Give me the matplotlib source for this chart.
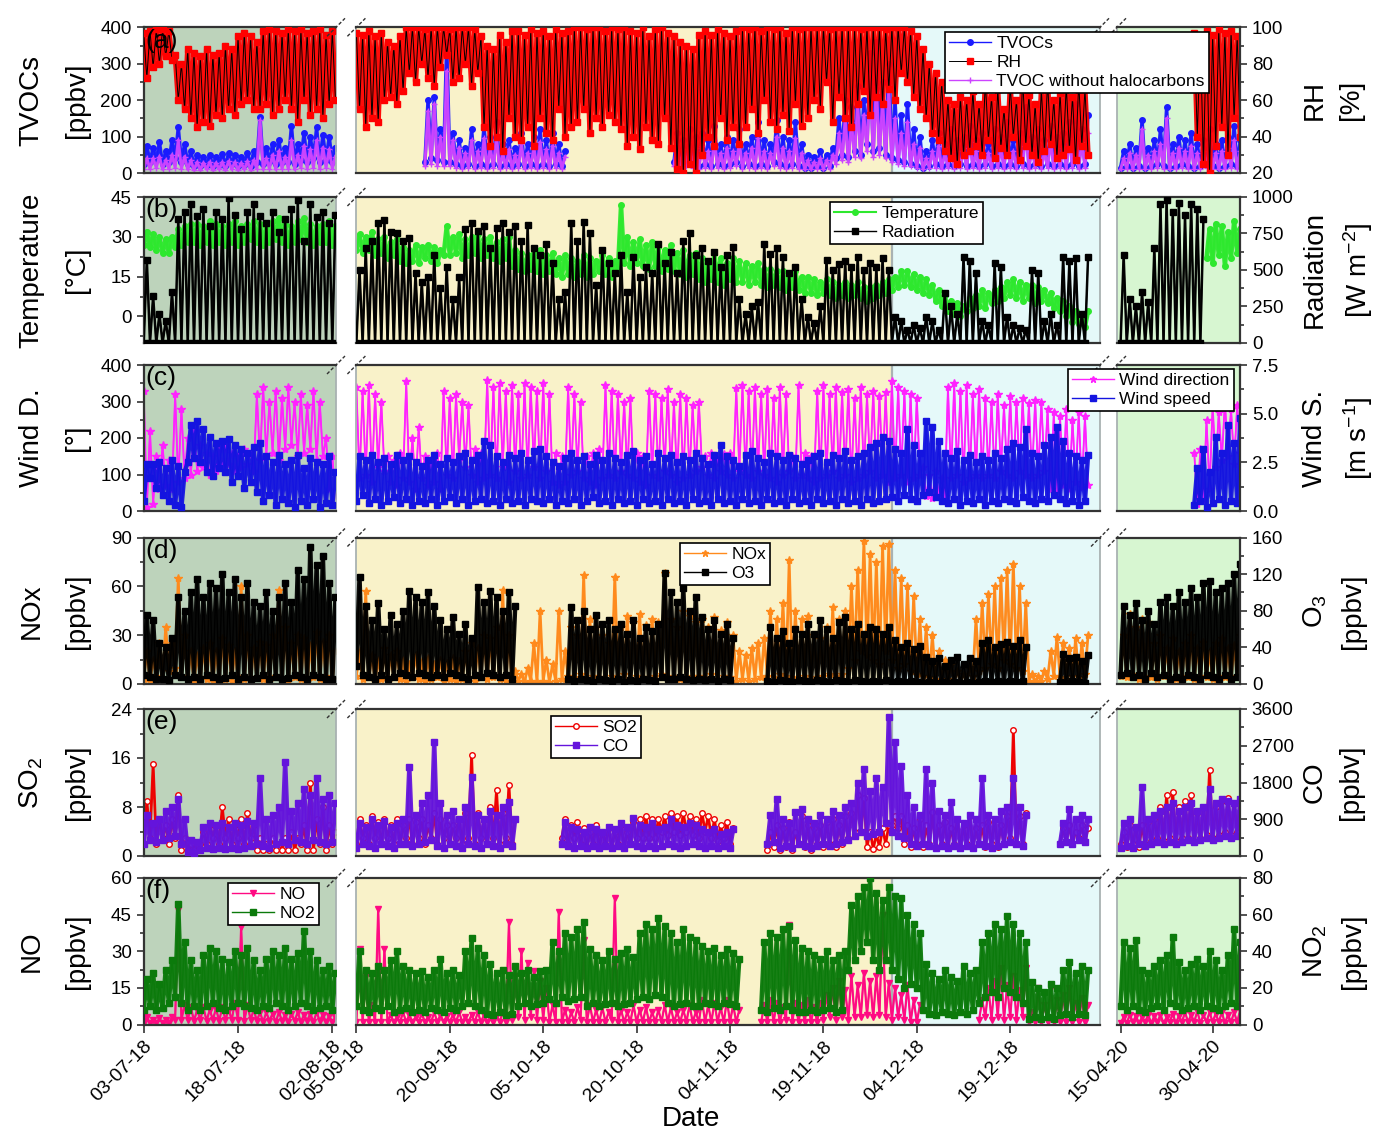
"""
Six-panel broken time series: VOCs, met and trace gases
(Jul-Aug 2018, Sep-Dec 2018, Apr-May 2020).
Values are two readings per day (00:00 and 12:00), read off the figure.
"""

import numpy as np
import matplotlib
matplotlib.use("Agg")
import matplotlib.pyplot as plt
import matplotlib.dates as mdates
from matplotlib.lines import Line2D
from matplotlib.ticker import AutoMinorLocator, FormatStrFormatter

plt.rcParams["font.family"] = ["Liberation Sans", "DejaVu Sans"]
plt.rcParams["mathtext.fontset"] = "custom"
plt.rcParams["mathtext.rm"] = "Liberation Sans"
plt.rcParams["mathtext.it"] = "Liberation Sans:italic"


def vals(s):
    out = []
    for tok in s.split():
        if "*" in tok:
            v, n = tok.split("*")
            out += [float(v)] * int(n)
        else:
            out.append(float(tok))
    return np.array(out)


# --- segments ----------------------------------------------------------------
SEG_START = ["2018-07-03", "2018-09-05", "2020-04-15"]
SEG_XLIM = [("2018-07-03T00:00", "2018-08-02T14:00"),
            ("2018-09-05T00:00", "2019-01-02T10:00"),
            ("2020-04-14T10:00", "2020-05-04T11:00")]
SEG_TICKS = [["2018-07-03", "2018-07-18", "2018-08-02"],
             ["2018-09-05", "2018-09-20", "2018-10-05", "2018-10-20",
              "2018-11-04", "2018-11-19", "2018-12-04", "2018-12-19"],
             ["2020-04-15", "2020-04-30"]]
WINTER_START = "2018-11-30"

# --- (a) TVOCs [ppbv], RH [%] -------------------------------------------------
TVOC_S1 = "25 75 30 70 35 85 25 60 30 90 40 125 30 80 25 60 20 50 20 45 22 50 20 45 22 52 20 55 25 50 20 45 22 55 20 60 30 155 25 70 30 80 25 90 30 70 30 130 25 80 35 110 30 100 40 125 30 105 35 100 30 70"
TVOC_S2 = """nan*22
30 200 40 210 35 120 30 360 30 110 25 90 20 70 25 120 20 80 25 130 20 100 25 140 20 80 25 90 20 70 25 110 20 80 25 100 20 120 25 90 20 110 25 80 20 60
nan*34
30 110 25 90 30 120 25 100 20 110 25 90 20 130 25 80 20 100 25 90 30 120 20 80 25 100 20 140 25 90 20 80 30 145 25 100 20 90 25 140 20 80
15 50 15 45 20 60 15 50 20 70
40 150 50 200 45 180 60 240 50 200 80 330 60 360 70 250 50 300 40 200 35 160 30 190 25 120 20 100
15 60 20 90 25 110 20 80 25 120 20 90 25 100 20 130 25 90 20 110 25 80 20 120 25 100 20 140 25 90 20 110 25 180 20 100 25 120 20 90 25 130 20 100 25 110 20 140 25 190 20 120 25 160"""
TVOC_S3 = "15 60 20 80 15 70 20 145 15 70 20 90 25 120 20 180 15 80 20 100 25 90 20 110 15 80 20 90 25 120 20 80 15 90 20 100 25 130 20 90"

TVOCH_S1 = "10 40 12 40 15 45 10 35 12 50 15 90 12 45 10 35 8 30 8 28 10 30 8 28 10 30 8 32 10 30 8 28 10 32 8 35 12 145 10 40 12 50 10 60 12 45 12 90 10 50 15 75 12 65 15 90 12 70 15 65 12 45"
TVOCH_S2 = """nan*22
20 170 25 190 20 100 20 280 20 90 15 70 12 55 15 90 12 60 15 95 12 70 15 100 12 55 15 65 12 50 15 80 12 55 15 70 12 85 15 65 12 75 15 55 12 45
nan*34
20 80 15 65 20 85 15 70 12 75 15 60 12 90 15 55 12 70 15 60 20 85 12 55 15 70 12 95 15 60 12 55 20 100 15 70 12 60 15 95 12 55
10 35 10 30 12 40 10 35 12 50
25 110 35 150 30 140 45 190 40 160 60 270 45 240 50 200 40 230 30 150 25 110 20 140 18 80 15 70
10 40 15 60 15 75 12 55 15 85 12 60 15 70 12 90 15 60 12 75 15 55 12 85 15 70 12 95 15 60 12 75 15 120 12 70 15 85 12 60 15 90 12 70 15 75 12 95 15 130 12 85 15 110"""
TVOCH_S3 = "10 40 12 55 10 50 12 120 10 50 12 60 15 80 12 150 10 55 12 70 15 60 12 75 10 55 12 60 15 85 12 55 10 60 12 70 15 90 12 60"

RH_S1 = "97 72 98 78 99 80 99 84 98 82 85 60 80 55 88 50 86 45 84 48 88 46 85 52 86 50 90 55 88 52 95 58 97 60 95 55 92 55 98 58 99 52 98 55 97 60 99 55 98 48 99 60 97 52 98 55 99 50 96 58 98 60"
RH_S2 = """97 55 96 45 98 50 95 48 97 60
92 62 90 58 95 65
100 75 100 70 100 80 99 72 100 68 100 78 100 85 99 70 100 72 100 80 100 68 99 75
95 45 90 35 88 40 96 32 92 50 98 40
98 38 96 45 99 35 97 50 98 42 95 38 99 55 97 40 98 45
100 48 100 55 99 42 100 50 100 45 98 52 100 48 99 44
100 35 98 40 97 33 100 45 95 38 99 36 100 50 97 34
95 22 92 20 90 25 88 20 96 30
98 40 96 35 99 50 97 38 95 45 98 36
100 45 99 55 100 42 98 60 100 48 99 44 100 52 97 43 100 58 99 46 100 50
100 60 100 55 100 70 99 48 100 62 100 50 100 45 100 58 99 65 100 52
100 62 100 58 99 66 100 60
100 75 100 70 98 62 95 55 88 50 80 42 75 38 70 32
60 28 58 25 62 30
60 32 65 35 58 30 70 38 62 28 66 34 55 30 68 40 60 27 72 35 63 30 58 26 66 32 70 36 60 28 64 30 68 33 62 27 70 35 66 30"""
RH_S3 = "nan*24 97 40 95 25 98 20 96 35 99 45 97 30 98 50 95 40"

# --- (b) Temperature [C], Radiation [W m-2] -----------------------------------
TEMP_S1 = "27 32 26 31 25 30 24 29 24 30 26 33 27 34 28 35 28 35 27 34 28 36 27 35 28 34 27 35 28 36 27 34 28 35 29 36 28 35 27 34 28 36 29 37 28 35 27 34 28 36 29 37 28 35 27 34 28 35 28 36 27 34"
TEMP_S2 = """25 31 24 30 25 32 23 29 24 30 22 28 23 29
21 26 20 25 21 27 20 26 22 27 21 26 20 25 23 34
23 30 24 31 22 29 23 30 24 31 22 29 23 30 22 28 21 29 22 30
19 25 18 24 17 23 18 24 17 25 16 23 17 24 16 22 15 23
16 22 15 21 16 23 15 22 16 21 17 23 16 22 15 21
18 42 20 30
19 28 20 29 19 27 18 28 19 26 17 25 18 27 17 24 16 25 15 23 16 24 14 22
13 21 14 24 13 22 12 20 14 22 13 21
13 20 12 19 13 20 12 18 11 18 12 17 11 17 10 16 11 17 10 15 9 15
9 14 8 13 9 14 8 13 7 12 8 13 7 12 8 13 7 11 6 11 7 12 8 13 9 14 10 15
11 17 12 17 11 16 10 15 9 14
8 12 6 10 4 8 2 6 1 5 0 4
2 7 3 8 4 10 3 9 5 10 6 11
7 13 8 14 7 13 6 12 7 12 5 11 6 10 5 9
3 7 2 6 0 4 -2 2 -3 1 -4 2"""
TEMP_S3 = "nan*28 22 33 20 35 23 34 19 32 22 36 24 33"

RAD_S1 = "0 570 0 320 0 200 0 150 0 350 0 850 0 900 0 950 0 870 0 920 0 800 0 900 0 850 0 990 0 880 0 780 0 900 0 950 0 870 0 820 0 900 0 760 0 850 0 920 0 980 0 700 0 950 0 860 0 900 0 820 0 880"
RAD_S2 = """0 500 0 650 0 700 0 820 0 840 0 760 0 750 0 700 0 720 0 480
0 420 0 450 0 600 0 380 0 520 0 300 0 450 0 780 0 820 0 770
0 800 0 650 0 790 0 820 0 760 0 800 0 700 0 810 0 650 0 600
0 680 0 550 0 300 0 350 0 820 0 700 0 830 0 750 0 400 0 640
0 550 0 480 0 600 0 350 0 590 0 450 0 520 0 480 0 680 0 550
0 620 0 480 0 700 0 750 0 600 0 650 0 560 0 620 0 520 0 600
0 660 0 300 0 200 0 250 0 280 0 680 0 610 0 650 0 590 0 480
0 520 0 300 0 180 0 140 0 250 0 570 0 500 0 540 0 560 0 520
0 590 0 500 0 550 0 520 0 580 0 500 0 180 0 150 0 90 0 120
0 100 0 180 0 150 0 90 0 340 0 250 0 200 0 590 0 560 0 480
0 150 0 120 0 545 0 520 0 180 0 120 0 100 0 90 0 500 0 480
0 150 0 200 0 120 0 590 0 560 0 580 0 200 0 590"""
RAD_S3 = "0 600 0 300 0 250 0 350 0 280 0 650 0 950 0 980 0 900 0 960 0 880 0 950 0 920 0 850 nan*12"

# --- (c) Wind direction [deg], Wind speed [m s-1] -----------------------------
WD_S1 = "330 10 220 20 150 60 180 70 140 60 320 80 280 90 200 100 220 110 180 120 160 100 150 110 170 120 180 130 160 110 150 120 170 130 160 110 320 140 340 150 300 160 330 140 310 170 340 180 300 150 320 160 290 170 330 140 300 150 200 60 150 40"
WD_S2 = """340 90 330 100 345 80 320 120 300 110
150 80 140 70 160 90
355 80 200 60 230 90
150 70 140 80 160 60
330 100 310 90 320 140 300 120 290 100
170 80 160 90
360 100 340 90 350 120 330 80 345 110 320 90 350 100 340 120 330 90 350 110 320 80
160 70 150 80
340 100 320 110 300 90
150 80 160 70 170 90
345 100 330 90 320 110 300 100 310 90
160 80 150 70
330 100 320 90 310 110 335 100 300 80 320 90 310 100 290 110
300 120 150 100 160 90 140 110 155 100 160 90 336 110
345 100 330 90 340 110 320 100 335 90 310 80 340 100 320 110
150 90
345 100 160 90 150 80
330 90 345 100 320 110 340 90 325 100 335 80 310 90 340 100 320 110 330 90 315 100 325 80
355 90 340 100 330 80 320 90 310 100
120 40 100 36 110 50 90 40
340 90 350 100 330 80 345 90 320 100 335 90
310 100 300 90 320 110 290 100 315 90 300 110 310 100 295 90 305 100 300 110
280 60 270 55 260 70 280 60 250 80 270 65 260 70"""
WD_S3 = "nan*24 160 20 170 30 250 60 290 120 270 140 300 150 280 130 290 160"

WS_S1 = "0.5 2.4 1.7 2.4 1.2 2.5 0.8 2.2 0.5 2.6 0.3 2.3 0.2 2.0 2.5 4.4 2.7 4.6 2.5 4.2 2.0 3.8 1.8 3.5 2.2 3.6 2.0 3.7 1.5 3.4 1.8 3.2 1.2 3.0 1.5 3.3 1.0 3.5 0.5 2.8 0.8 2.5 0.3 2.9 0.6 2.4 0.4 2.6 0.2 2.9 0.5 2.2 0.3 2.7 0.6 2.5 0.2 2.4 0.4 2.8 0.3 2.0"
WS_S2 = """0.5 2.8 0.8 2.6 0.4 2.9 0.6 2.5 0.3 2.7 0.5 2.4 0.7 2.9 0.4 2.6 0.6 2.8 0.3 2.5
0.5 2.3 0.4 2.6 0.6 2.9 0.3 2.4 0.5 2.7 0.7 2.5 0.4 2.8 0.6 3.0 0.3 2.6 0.5 2.9
0.6 3.6 0.4 3.4 0.5 2.8 0.3 2.5 0.6 2.9 0.4 2.7 0.5 3.0 0.3 2.6 0.6 3.1 0.5 3.2
0.4 2.8 0.6 2.5 0.3 2.3 0.5 2.7 0.4 3.0 0.6 2.6 0.3 2.8 0.5 2.4 0.7 2.9 0.4 2.6
0.5 3.0 0.3 2.7 0.6 2.5 0.4 2.9 0.5 3.1 0.3 2.6 0.6 2.8 0.4 2.4 0.5 3.0 0.3 2.7
0.6 2.9 0.4 2.5 0.5 2.8 0.3 2.6 0.6 3.0 0.4 2.7 0.5 2.4 0.3 2.9 0.6 3.4 0.4 2.8
0.5 2.6 0.3 2.3 0.6 2.9 0.4 3.1 0.5 2.7 0.3 2.5 0.6 3.0 0.4 2.8 0.5 2.6 0.3 2.9
0.6 2.7 0.4 2.4 0.5 2.6 0.3 2.8 0.6 3.0 0.4 2.5 0.5 2.9 0.3 2.7 0.6 3.1 0.4 2.6
0.5 2.8 0.3 3.0 0.6 3.3 0.4 3.5 0.5 3.8 0.6 3.6 0.7 3.2 0.5 3.0 0.8 4.2 0.6 3.4
0.5 3.0 0.8 4.6 1.0 4.3 0.7 3.6 0.5 3.0 0.4 2.7 0.6 3.1 0.3 2.6 0.5 2.9 0.4 2.5
0.6 2.8 0.3 2.6 0.5 3.0 0.4 2.7 0.6 3.2 0.5 3.5 0.4 3.3 0.7 4.2 0.5 3.0 0.4 2.8
0.6 3.4 0.5 3.8 0.8 4.3 0.6 3.6 0.4 3.0 0.5 2.8 0.3 2.6 0.5 2.9"""
WS_S3 = "nan*24 0.3 2.2 0.5 3.2 0.2 2.0 0.4 3.8 0.6 3.0 0.3 4.4 0.5 3.5 0.4 4.8"

# --- (d) NOx [ppbv], O3 [ppbv] ------------------------------------------------
NOX_S1 = "3 20 2 15 5 25 3 35 8 25 10 65 5 30 3 20 2 18 4 22 3 25 2 20 4 28 3 24 2 20 5 60 3 30 2 22 4 26 3 24 2 30 5 58 3 35 2 25 4 30 3 28 2 24 4 32 3 26 5 30 3 20"
NOX_S2 = """5 20 3 57 4 18 2 15 3 22 2 18 4 20
3 15 2 12 4 18 3 14 2 16 3 12 4 15 2 13 3 16 2 14
3 20 4 25 2 22 5 30 3 28 4 35 3 58 2 30
1 8 2 6 1 10 2 25 1 45 2 15 1 12 2 45 3 20
5 35 4 30 6 67 3 40 5 35 4 30 3 25
5 66 4 35 6 42 3 38 5 43 4 36 3 40 5 38
6 68 4 40 5 35 3 45 4 42 5 38
5 40 4 35 6 41 3 33 5 38 4 30 2 20 3 18 2 22 3 25 4 28
5 45 4 40 6 50 5 76 4 45 3 40 5 42
3 30 4 28 5 35 6 47 5 40 6 45
10 60 15 70 20 88 18 80 15 75 12 85 20 86 15 70 10 65 12 60
8 54 6 40 5 35 4 30 3 20 2 15 3 12
2 8 1 6 2 10
5 40 8 50 10 55 12 60 10 65 15 70 12 74 10 60 8 50
2 6 1 5 2 8
3 20 5 29 4 25 3 22 5 28 4 25 6 30"""
NOX_S3 = "5 30 4 43 6 35 3 40 5 38 4 25 3 30 5 22 4 28 3 20 5 25 4 30 3 22 5 26 4 20 3 25 5 28 4 22 3 24 5 30"

O3_S1 = "10 75 8 70 5 45 6 40 4 50 10 95 8 80 5 100 8 115 6 95 10 110 8 105 5 120 7 100 10 115 6 95 8 110 5 90 7 85 10 100 6 80 8 95 5 110 7 90 10 125 8 115 5 150 10 130 8 140 6 110 5 95"
O3_S2 = """20 117
10 85 8 70 5 88 10 60 6 75 8 65 12 80
10 102 8 95 12 90 10 100 8 85
10 70 8 60 12 73 10 55 8 65 6 50
10 106 8 90 12 102 10 95 8 80 10 100 6 85
nan*16
5 84 3 70 6 80 4 60 2 75 5 65
4 70 3 60 5 65 2 55 4 70 3 50 5 62 4 58 3 66
8 121 6 100 5 90 8 105 6 80 4 95
5 73 4 60 6 70 3 55 5 65 4 50
nan*10
3 62 2 50 4 58 3 45 2 60 4 55
3 65 2 55 4 70 3 60 2 50 4 68 3 73 2 60 4 65 3 55 2 62
3 60 2 55 4 62
2 48 3 40 2 45 3 38 2 42
1 30 2 25 1 28 2 20 1 26 2 30 1 22 2 28 1 25
2 45 3 48 2 40 3 44 2 46 3 42 2 48 3 40
nan*10
2 33 1 28 3 30 2 25 1 32"""
O3_S3 = "10 85 12 75 8 88 10 70 6 80 12 65 8 90 10 95 6 85 8 100 5 90 10 105 8 95 6 110 10 113 8 100 5 105 10 110 6 120 8 131"

# --- (e) SO2 [ppbv], CO [ppbv] ------------------------------------------------
SO2_S1 = "2 9 3 15 2 6 3 5 2 6 3 10 1 3 1 2 1 2 2 4 2 5 3 5 2 8 3 6 2 5 3 6 2 7 3 5 1 3 1 2 1 3 1 2 1 3 1 4 1 3 2 5 1 12 1 6 2 8 1 5 2 4"
SO2_S2 = """2 6 3 5 2 6.5 3 5.5 2 6 3 5 2 6
2 5 3 6 2 5.5 3 6 2 5 3 7 2 6 3 5
2 5 3 6 2 7
3 16.5
2 7 3 6 2 8
3 10.7
2 7
3 11.6
2 6
nan*14
3 6 2 5 3 5.5 2 4.5 1.5 4 2 5 1.5 4 2 4.5 1.5 4 2 5 1.5 4 2 5.5 3 6 3 6.5 3 6
3 6 4 6.5 3.5 7 4 6.5 3.5 7 4 6.5 3.5 6
3 7 4 6.5 3 6 2.5 5 3 5.5 2 4.5
nan*10
1 4 1.5 5 1 4.5 1.5 5.5 1 4 2 6.6 1.5 5 1 4.5 2 5 1.5 5.5 2 6 1.5 5 2 6.5 3 7
4 10 4 9.5
1.5 4 1.2 3.5 1.5 4.5 2 5
5 6.6 4.5 6.5
2 5 1.5 4.5 2 6 1.5 5 2 7.2 1.5 5 2 5.5 1.5 4.5 2 6 1.5 5 2 6.5 1.5 4.5 2 5 1.5 5.5 2 6 1.5 5 2 6.5
3 20.6
2 6.5 2 7
nan*10
2 4.5 2.5 5 2 4 3 5 2.5 4.5"""
SO2_S3 = "2 4 1.5 5 2 4.5 1.5 5 2 5.5 2.5 6 3 8 2.5 10 3 10.5 2.5 8 3 9 3 10 2.5 7 3 8 3.5 14 3 8 3.5 9 4 9.5 3.5 8.5 4 9"

CO_S1 = "300 1000 400 800 350 900 400 1100 450 1200 500 1400 300 900 100 400 80 350 150 700 200 800 180 750 200 820 180 700 200 800 180 750 200 850 250 800 300 1900 250 900 200 1000 300 1200 350 2300 300 1100 400 1300 350 1650 300 1500 400 1900 350 1400 300 1500 350 1300"
CO_S2 = """200 800 300 700 250 900 200 750 300 850 250 700 200 800 300 900
300 2180
250 1000 300 1300 350 1500
400 2800
250 1300 200 1000 300 1100 250 900 200 1200
300 1940
250 1000 200 900 300 1100 250 1000 200 1200 300 1330 250 900
nan*14
300 830 250 700 200 650 250 600 200 700 250 650 200 600 250 700 200 650 250 800 200 700 300 920 250 750 200 700 250 800 200 650 250 700 300 900 250 750 200 700 250 800 300 750
250 670 200 600 250 650 200 550 250 600 200 650
nan*10
300 1000 350 1400
200 900 250 800 200 1080 300 1160 250 900 200 800 250 1000 300 900 250 1100 300 1000 350 1200 400 1300
500 1800 600 2140 500 1600 550 1900 600 1700
800 3410
600 2800 500 2200 450 1500
300 1200 250 1000 300 2140 250 1800 200 1100 250 1000
200 1330 250 900 200 800 250 1000 200 900
300 1900 250 1000 200 900 250 1100 300 1200
350 1900 300 1200 250 1000
nan*10
300 800 350 1160 300 900 400 1000 350 900"""
CO_S3 = "200 800 250 900 200 700 300 1700 250 900 300 1000 350 1100 300 1200 350 1300 300 1100 350 1200 400 1300 350 1100 400 1200 450 1650 400 1300 450 1400 500 1350 450 1300 500 1400"

# --- (f) NO [ppbv], NO2 [ppbv] ------------------------------------------------
NO_S1 = "0.5 3 0.5 2 0.5 2.5 0.5 2 0.5 3 2 47 2 8 2 7 1.5 6 2 7 1.5 6 2 6.5 1.5 7 2 6 2 9 2 40 1.5 8 2 6 1.5 5 1 5 1.5 4.5 1 5 1.5 4 1 4.5 1.5 5 1 4 1.5 4.5 1 5 1.5 4 1 3.5 1 3"
NO_S2 = """1 31 1 20 1 8 1 47.5 1 31
1 4 1 3 1 5 1 4 1 3 1 4.5 1 3 1 5 1 4 1 3.5 1 4 1 5 1 3 1 4 1 5 1 4 1 3 1 4 1 5
1 42
2 20 3 30 2 25 3 22 2 18 2 15 1 8
1 46
1 6 1 5 1 7
2 34.5
1 8 1 6 1 7 1 5
2 52
1 6 1 5 1 8 1 6 1 7 1 5 1 6 1 8 1 7 1 5 1 6 1 8 1 5
1 10 1 8 1 9 1 7 1 10 1 8 1 6
nan*6
1 8 1 10 1 9 1 7
2 40.6
1 9 1 8 1 10 1 7 1 9
2 12 3 15 2 18 3 14 2 20 3 16
3 21 4 18 3 20
4 44.7
3 17 2 15 3 12 2 16 1 10 1 8
nan*18
2 10 3 15 2 18 3 23 2 16 3 20 2 14 3 23
1 5
1 15 1 8 1 15 1 10 1 12 1 15 1 9 1 11 1 8"""
NO_S3 = "0.5 3 0.5 4 1 3.5 0.5 3 1 4 0.5 3.5 1 4 0.5 3 1 4.5 0.5 3.5 1 5 1 4 1 5.5 0.5 4 1 5 1 4.5 1 5 0.5 4 1 5 1 6"

NO2_S1 = "8 25 10 28 8 22 9 30 12 35 15 66 12 45 8 35 10 30 8 38 10 42 12 40 9 36 8 34 10 40 12 38 10 42 9 35 8 30 10 36 9 40 12 38 10 42 8 36 10 39 12 51 10 40 8 35 9 30 10 32 8 28"
NO2_S2 = """10 40 8 30 7 28 9 32 8 30 10 35 7 40 8 32 9 30 7 28
8 29 7 26 9 30 8 36 7 28 9 30 8 27
10 40 12 47 10 42 8 38
6 33 5 28 7 30 5 27 6 32
10 28 12 30 10 26 11 29 12 30
14 45 12 40 15 50 13 48 14 52 15 56
10 41 12 38 10 35 11 40 12 36 10 39 11 41 12 37
14 50 15 55 14 52 16 58 15 54
12 50 10 45 11 52 12 48 10 46
10 43 12 40 11 42 10 38 12 41 11 39 10 36
nan*6
8 45 7 50 9 48 8 52 10 54 8 46 7 42
7 40 8 38 7 36 8 40 9 35 7 38 8 40
30 65 35 70 40 75 45 80 35 72 30 68 35 75 30 70
25 69 20 60 22 55 20 50
8 33 6 28 5 25 7 30 6 26 5 24 7 32 6 28 8 30
12 45 15 50 18 55 15 52 20 59 18 55 15 50 12 45
3 23 4 20 3 18 4 22 3 20
5 30 6 34 4 28 6 32 5 30"""
NO2_S3 = "10 45 8 42 10 46 8 30 7 28 9 32 10 35 8 38 12 48 10 34 8 30 9 33 10 36 8 32 10 40 9 35 8 30 10 38 12 52 10 45"


def series(*parts):
    return [vals(p) for p in parts]


TVOC = series(TVOC_S1, TVOC_S2, TVOC_S3)
TVOCH = series(TVOCH_S1, TVOCH_S2, TVOCH_S3)
RH = series(RH_S1, RH_S2, RH_S3)
TEMP = series(TEMP_S1, TEMP_S2, TEMP_S3)
RAD = series(RAD_S1, RAD_S2, RAD_S3)
WD = series(WD_S1, WD_S2, WD_S3)
WS = series(WS_S1, WS_S2, WS_S3)
NOX = series(NOX_S1, NOX_S2, NOX_S3)
O3 = series(O3_S1, O3_S2, O3_S3)
SO2 = series(SO2_S1, SO2_S2, SO2_S3)
CO = series(CO_S1, CO_S2, CO_S3)
NO = series(NO_S1, NO_S2, NO_S3)
NO2 = series(NO2_S1, NO2_S2, NO2_S3)

# --- styles (band = width of the dense hourly trace under the markers) --------
STYLE = {
    "TVOCs": dict(color="#1a1aff", marker="o", ms=4, lw=1.0, band=2.5),
    "RH": dict(color="black", marker="s", ms=5, mfc="#ff0000", mec="#ff0000", lw=0.7, band=3.8),
    "TVOC without halocarbons": dict(color="#cc44ff", marker="+", ms=4, lw=1.0, band=2.2),
    "Temperature": dict(color="#2ee82e", marker="o", ms=4, lw=1.5, band=3.2),
    "Radiation": dict(color="black", marker="s", ms=4.5, lw=1.0, band=1.8),
    "Wind direction": dict(color="#ff22ff", marker="*", ms=6, lw=1.0, band=1.3),
    "Wind speed": dict(color="#1414e0", marker="s", ms=5, lw=1.0, band=3.2),
    "NOx": dict(color="#ff8a1c", marker="*", ms=6, lw=1.0, band=2.0),
    "O3": dict(color="black", marker="s", ms=5, lw=1.0, band=3.2),
    "SO2": dict(color="#ee0000", marker="o", ms=4, mfc="white", mew=1.0, lw=1.0, band=2.0),
    "CO": dict(color="#6414dc", marker="s", ms=5, lw=1.0, band=3.2),
    "NO": dict(color="#ff0a82", marker="v", ms=5, lw=1.0, band=1.6),
    "NO2": dict(color="#0b7a0b", marker="s", ms=5, lw=1.0, band=3.2),
}

ROWS = [
    dict(tag="(a)", left=[("TVOCs", TVOC), ("TVOC without halocarbons", TVOCH)], right=[("RH", RH)],
         lylim=(0, 400), lticks=[0, 100, 200, 300, 400], rylim=(20, 100), rticks=[20, 40, 60, 80, 100],
         lname="TVOCs\n[ppbv]", rname="RH\n[%]", rfmt="%d",
         legend=["TVOCs", "RH", "TVOC without halocarbons"], lpos=(945, 32)),
    dict(tag="(b)", left=[("Temperature", TEMP)], right=[("Radiation", RAD)],
         lylim=(-10, 45), lticks=[0, 15, 30, 45], rylim=(0, 1000), rticks=[0, 250, 500, 750, 1000],
         lname="Temperature\n[°C]", rname="Radiation\n[W m$^{-2}$]", rfmt="%d",
         legend=["Temperature", "Radiation"], lpos=(830, 202)),
    dict(tag="(c)", left=[("Wind direction", WD)], right=[("Wind speed", WS)],
         lylim=(0, 400), lticks=[0, 100, 200, 300, 400], rylim=(0, 7.5), rticks=[0, 2.5, 5.0, 7.5],
         lname="Wind D.\n[°]", rname="Wind S.\n[m s$^{-1}$]", rfmt="%.1f",
         legend=["Wind direction", "Wind speed"], lpos=(1068, 369)),
    dict(tag="(d)", left=[("NOx", NOX)], right=[("O3", O3)],
         lylim=(0, 90), lticks=[0, 30, 60, 90], rylim=(0, 160), rticks=[0, 40, 80, 120, 160],
         lname="NOx\n[ppbv]", rname="O$_3$\n[ppbv]", rfmt="%d",
         legend=["NOx", "O3"], lpos=(680, 543)),
    dict(tag="(e)", left=[("SO2", SO2)], right=[("CO", CO)],
         lylim=(0, 24), lticks=[0, 8, 16, 24], rylim=(0, 3600), rticks=[0, 900, 1800, 2700, 3600],
         lname="SO$_2$\n[ppbv]", rname="CO\n[ppbv]", rfmt="%d",
         legend=["SO2", "CO"], lpos=(551, 716)),
    dict(tag="(f)", left=[("NO", NO)], right=[("NO2", NO2)],
         lylim=(0, 60), lticks=[0, 15, 30, 45, 60], rylim=(0, 80), rticks=[0, 20, 40, 60, 80],
         lname="NO\n[ppbv]", rname="NO$_2$\n[ppbv]", rfmt="%d",
         legend=["NO", "NO2"], lpos=(228, 883)),
]

# --- layout (pixel boxes of the original figure) ------------------------------
W, H = 1373, 1137
SEG_X = [(143.7, 336.0), (356.4, 1100.0), (1117.0, 1240.0)]
ROW_Y = [(27.3, 173.0), (197.0, 343.0), (365.0, 511.0), (537.5, 684.0), (709.0, 856.0), (878.0, 1024.5)]
BG = ["#bdd3bb", "#f9f2c9", "#d7f6d1"]
BG_WINTER = "#e5f9f9"
OUTER = "#333333"
INNER = "#a9b2b2"

fig = plt.figure(figsize=(W / 100, H / 100), dpi=100)


def num(s):
    return mdates.date2num(np.datetime64(s))


for r, row in enumerate(ROWS):
    y0, y1 = ROW_Y[r]
    for s in range(3):
        x0, x1 = SEG_X[s]
        ax = fig.add_axes([x0 / W, 1 - y1 / H, (x1 - x0) / W, (y1 - y0) / H])
        ax2 = ax.twinx()

        ax.set_facecolor(BG[s])
        xa, xb = num(SEG_XLIM[s][0]), num(SEG_XLIM[s][1])
        if s == 1:
            ax.axvspan(num(WINTER_START), xb, color=BG_WINTER, lw=0, zorder=0)
            ax.axvline(num(WINTER_START), color=INNER, lw=1.6, zorder=1)

        for target, group in ((ax, row["left"]), (ax2, row["right"])):
            for name, data in group:
                st = dict(STYLE[name])
                band = st.pop("band")
                y = data[s]
                t = np.datetime64(SEG_START[s]) + np.arange(len(y)) * np.timedelta64(12, "h")
                target.plot(t, y, color=st.get("mec", st["color"]), lw=band, alpha=0.95)
                target.plot(t, y, **st)

        ax.set_xlim(xa, xb)
        ax.set_ylim(*row["lylim"])
        ax2.set_ylim(*row["rylim"])
        ax.set_yticks(row["lticks"])
        ax2.set_yticks(row["rticks"])
        ax.yaxis.set_minor_locator(AutoMinorLocator(2))
        ax2.yaxis.set_minor_locator(AutoMinorLocator(2))
        ax2.yaxis.set_major_formatter(FormatStrFormatter(row["rfmt"]))

        ax.tick_params(axis="y", which="both", direction="out", left=(s == 0), labelleft=(s == 0),
                       right=False, labelsize=13.5, width=1.2, colors=OUTER, labelcolor="black")
        ax.tick_params(axis="y", which="major", length=5)
        ax.tick_params(axis="y", which="minor", length=3)
        ax2.tick_params(axis="y", which="both", direction="out", right=(s == 2), labelright=(s == 2),
                        left=False, labelsize=13.5, width=1.2, colors=OUTER, labelcolor="black")
        ax2.tick_params(axis="y", which="major", length=5)
        ax2.tick_params(axis="y", which="minor", length=3)

        if r == len(ROWS) - 1:
            ax.set_xticks([num(d) for d in SEG_TICKS[s]])
            ax.xaxis.set_major_formatter(mdates.DateFormatter("%d-%m-%y"))
            ax.tick_params(axis="x", direction="out", length=6, width=1.2, labelsize=14,
                           colors=OUTER, labelcolor="black")
            plt.setp(ax.get_xticklabels(), rotation=45, ha="right", rotation_mode="anchor")
        else:
            ax.tick_params(axis="x", bottom=False, labelbottom=False)

        for side in ("top", "bottom"):
            ax.spines[side].set_color(OUTER)
            ax.spines[side].set_linewidth(1.6)
        ax.spines["left"].set_color(OUTER if s == 0 else INNER)
        ax.spines["left"].set_linewidth(1.6 if s == 0 else 1.3)
        ax.spines["right"].set_color(INNER)
        ax.spines["right"].set_linewidth(1.3)
        ax.spines["right"].set_visible(s < 2)
        for side in ("top", "bottom", "left"):
            ax2.spines[side].set_visible(False)
        ax2.spines["right"].set_visible(s == 2)
        ax2.spines["right"].set_color(OUTER)
        ax2.spines["right"].set_linewidth(1.6)

        if s == 0:
            ax.set_ylabel(row["lname"], fontsize=20, linespacing=1.95)
            ax.yaxis.set_label_coords(-0.28, 0.5)
            # panel tag sits above both data layers
            ax2.text(0.008, 0.99, row["tag"], transform=ax2.transAxes, va="top", ha="left",
                     fontsize=19, zorder=10)
        if s == 2:
            ax2.set_ylabel(row["rname"], fontsize=20, linespacing=1.55)
            ax2.yaxis.set_label_coords(1.50, 0.5)

    # break marks at the top of each gap
    for xc in (SEG_X[0][1], SEG_X[1][0], SEG_X[1][1], SEG_X[2][0]):
        fig.add_artist(Line2D([(xc - 9) / W, (xc + 9) / W], [1 - (y0 + 9) / H, 1 - (y0 - 9) / H],
                              transform=fig.transFigure, color="#333333", lw=1.0,
                              ls=(0, (2.5, 1.5))))

    handles = []
    for name in row["legend"]:
        st = dict(STYLE[name])
        st.pop("band")
        st["ms"] = min(st["ms"], 5)
        handles.append(Line2D([], [], **st))
    lx, ly = row["lpos"]
    leg = fig.legend(handles, row["legend"], loc="upper left", bbox_to_anchor=(lx / W, 1 - ly / H),
                     bbox_transform=fig.transFigure, fontsize=12.5, frameon=True, fancybox=False,
                     framealpha=1, edgecolor="black", borderpad=0.25, labelspacing=0.2,
                     handlelength=2.4, handletextpad=0.3, borderaxespad=0)
    leg.get_frame().set_linewidth(1.2)

fig.text(0.503, 0.004, "Date", ha="center", va="bottom", fontsize=20)

fig.savefig("out.png", dpi=100)
